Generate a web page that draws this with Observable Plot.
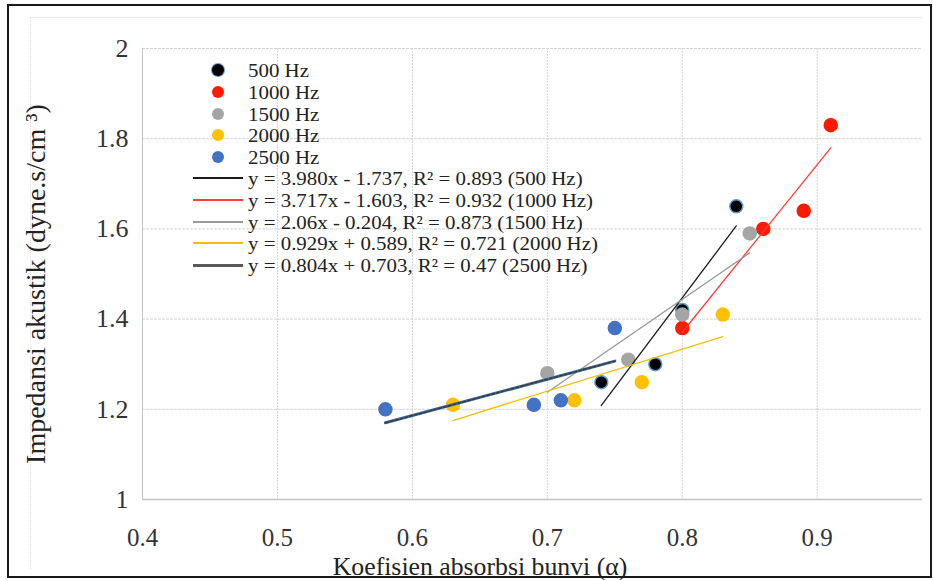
<!DOCTYPE html>
<html>
<head>
<meta charset="utf-8">
<script src="https://cdn.jsdelivr.net/npm/d3@7"></script>
<script src="https://cdn.jsdelivr.net/npm/@observablehq/plot@0.6"></script>
<style>
  html, body { margin: 0; padding: 0; background: #fff; }
  #wrap { position: relative; width: 933px; height: 580px; overflow: hidden; font-family: "Liberation Serif", "Times New Roman", serif; }
  #frame { position: absolute; left: 7px; top: 4px; width: 921px; height: 570px; border: 2px solid #1a1a1a; pointer-events: none; }
  #inner { position: absolute; left: 30px; top: 17px; width: 892px; height: 551px; border-left: 1px dotted #e0e0e0; border-top: 1px solid #ececec; pointer-events: none; }
  #chart { position: absolute; left: 0; top: 0; }
  #chart svg text { font-family: "Liberation Serif", "Times New Roman", serif !important; }
  .ytitle { position: absolute; left: 36px; top: 284px; transform: translate(-50%, -50%) rotate(-90deg); white-space: nowrap; font-size: 28px; line-height: 1; color: #222; }
  .xtitle { position: absolute; left: 480px; top: 566px; transform: translate(-50%, -50%) scaleX(1.03); white-space: nowrap; font-size: 25px; line-height: 1; color: #222; }
  .leg { position: absolute; left: 0; top: 0; font-size: 19px; color: #222; }
  .row { position: absolute; white-space: nowrap; line-height: 1; height: 19px; transform: scaleX(1.1); transform-origin: left center; }
  .dot { position: absolute; width: 12px; height: 12px; border-radius: 50%; }
  .ln { position: absolute; width: 50px; height: 0; }
</style>
</head>
<body>
<div id="wrap">
  <div id="inner"></div>
  <div id="chart"></div>
  <div class="ytitle" id="ytitle"></div>
  <div class="xtitle" id="xtitle"></div>
  <div class="leg" id="leg"></div>
  <div id="frame"></div>
</div>
<script>
// ---- data ----
const seriesNames = ["500 Hz", "1000 Hz", "1500 Hz", "2000 Hz", "2500 Hz"];
const x500  = [0.74, 0.78, 0.80, 0.84];
const y500  = [1.26, 1.30, 1.42, 1.65];
const x1000 = [0.80, 0.86, 0.89, 0.91];
const y1000 = [1.38, 1.60, 1.64, 1.83];
const x1500 = [0.70, 0.76, 0.80, 0.85];
const y1500 = [1.28, 1.31, 1.41, 1.59];
const x2000 = [0.63, 0.72, 0.77, 0.83];
const y2000 = [1.21, 1.22, 1.26, 1.41];
const x2500 = [0.58, 0.69, 0.71, 0.75];
const y2500 = [1.20, 1.21, 1.22, 1.38];
const trendLabels = [
  "y = 3.980x - 1.737, R² = 0.893 (500 Hz)",
  "y = 3.717x - 1.603, R² = 0.932 (1000 Hz)",
  "y = 2.06x - 0.204, R² = 0.873 (1500 Hz)",
  "y = 0.929x + 0.589, R² = 0.721 (2000 Hz)",
  "y = 0.804x + 0.703, R² = 0.47 (2500 Hz)"
];
const xTicks = [0.4, 0.5, 0.6, 0.7, 0.8, 0.9];
const yTicks = [1, 1.2, 1.4, 1.6, 1.8, 2];
const xTitle = "Koefisien absorbsi bunvi (α)";
const yTitle = "Impedansi akustik (dyne.s/cm ³)";

// styling
const dotFill  = ["#000000", "#ff1a00", "#a5a5a5", "#ffc000", "#4472c4"];
const dotStroke= ["#5b9bd5", "#ff1a00", "#a5a5a5", "#ffc000", "#4472c4"];
const lineColor= ["#1a1a1a", "#ff3b3b", "#9a9a9a", "#f0c000", "#595959"];

document.getElementById("xtitle").textContent = xTitle;
document.getElementById("ytitle").textContent = yTitle;

const xsAll = [x500, x1000, x1500, x2000, x2500];
const ysAll = [y500, y1000, y1500, y2000, y2500];
const table = seriesNames.map((s, i) => xsAll[i].map((x, j) => ({series: s, idx: i, x, y: ysAll[i][j]})));

const marks = [
  Plot.gridX(xTicks.slice(1), {stroke: "#d4d4d4", strokeOpacity: 1, strokeDasharray: "2,1"}),
  Plot.gridY(yTicks.slice(1), {stroke: "#d4d4d4", strokeOpacity: 1, strokeDasharray: "3,1"}),
  Plot.ruleX([0.4], {stroke: "#c4c4c4"}),
  Plot.ruleY([1], {stroke: "#c4c4c4", strokeWidth: 1.5}),
  Plot.axisX(xTicks, {tickSize: 0, tickPadding: 29, tickFormat: d => d.toFixed(1), fontSize: 25, fill: "#333"}),
  Plot.axisY(yTicks, {tickSize: 0, tickPadding: 14, tickFormat: d => String(d), fontSize: 26, fill: "#333"})
];
table.forEach((d, i) => {
  marks.push(Plot.dot(d, {x: "x", y: "y", r: 6.5, fill: dotFill[i], stroke: dotStroke[i], strokeWidth: 1.5}));
});
table.forEach((d, i) => {
  if (i === 4) {
    marks.push(Plot.linearRegressionY(d, {x: "x", y: "y", ci: 0, stroke: "#3e6fa6", strokeWidth: 3}));
    marks.push(Plot.linearRegressionY(d, {x: "x", y: "y", ci: 0, stroke: "#3a3a3a", strokeWidth: 1.5, strokeDasharray: "3,2"}));
  } else {
    marks.push(Plot.linearRegressionY(d, {x: "x", y: "y", ci: 0, stroke: lineColor[i], strokeWidth: 1.3}));
  }
});

const chart = Plot.plot({
  width: 933, height: 580,
  marginLeft: 142, marginRight: 11, marginTop: 48, marginBottom: 81,
  style: {background: "transparent", fontFamily: "Liberation Serif"},
  x: {domain: [0.4, 0.978], label: null},
  y: {domain: [1, 2], label: null},
  marks
});
document.getElementById("chart").appendChild(chart);

// legend
const leg = document.getElementById("leg");
const dotRows = [70, 92, 114, 135, 157];
const lineRows = [178, 200, 222, 243, 265];
seriesNames.forEach((s, i) => {
  const dot = document.createElement("div");
  dot.className = "dot";
  dot.style.left = (218 - 6) + "px";
  dot.style.top = (dotRows[i] - 6) + "px";
  dot.style.background = dotFill[i];
  dot.style.boxShadow = i === 0 ? "0 0 0 1px #5b9bd5" : "none";
  leg.appendChild(dot);
  const t = document.createElement("div");
  t.className = "row";
  t.style.left = "248px";
  t.style.top = (dotRows[i] - 9.5) + "px";
  t.textContent = s;
  leg.appendChild(t);
});
trendLabels.forEach((s, i) => {
  const ln = document.createElement("div");
  ln.className = "ln";
  ln.style.left = "193px";
  ln.style.top = (lineRows[i] - 1) + "px";
  ln.style.borderTop = (i === 4 ? 3 : 2) + "px solid " + (i === 1 ? "#ff3b3b" : lineColor[i]);
  leg.appendChild(ln);
  const t = document.createElement("div");
  t.className = "row";
  t.style.left = "248px";
  t.style.top = (lineRows[i] - 9.5) + "px";
  t.textContent = s;
  leg.appendChild(t);
});
</script>
</body>
</html>
